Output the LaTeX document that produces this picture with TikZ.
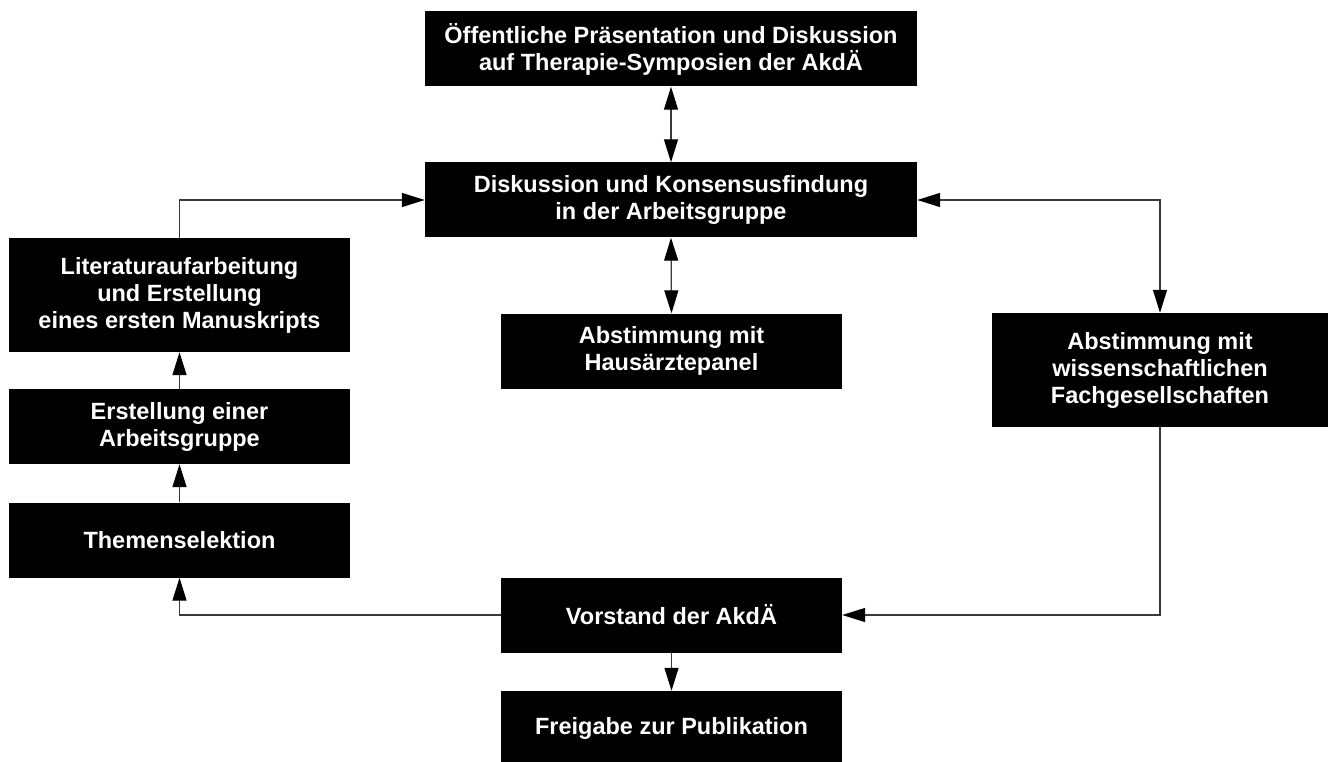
\documentclass[tikz,border=0pt]{standalone}
\usepackage{fontspec}
\setmainfont{Liberation Sans}
\usetikzlibrary{arrows.meta}
\definecolor{linegray}{HTML}{3A3A3A}

\begin{document}
\begin{tikzpicture}[x=1pt, y=-1pt,
  box/.style={fill=black, text=white, align=center, inner sep=0pt,
    font=\fontsize{23.5}{27}\selectfont\bfseries, minimum height=75pt},
  wide/.style={box, minimum width=492pt},
  small/.style={box, minimum width=341pt},
  link/.style={linegray, line width=1.3pt},
  >={Triangle[length=23pt, width=14pt, color=black]}]
  \useasboundingbox (0,0) rectangle (1328,762);

  % middle column
  \node[wide] (praes) at (671,49) {Öffentliche Präsentation und Diskussion\\auf Therapie-Symposien der AkdÄ};
  \node[wide] (disk) at (671,200) {Diskussion und Konsensusfindung\\in der Arbeitsgruppe};
  \node[small] (haus) at (671.5,351) {Abstimmung mit\\Hausärztepanel};
  \node[small] (vorst) at (671.5,615) {Vorstand der AkdÄ};
  \node[small] (frei) at (671.5,728.5) {Freigabe zur Publikation};

  % left column
  \node[small, minimum height=114pt] (lit) at (179.5,295) {Literaturaufarbeitung\\und Erstellung\\eines ersten Manuskripts};
  \node[small] (erst) at (179.5,426.5) {Erstellung einer\\Arbeitsgruppe};
  \node[small] (themen) at (179.5,540) {Themenselektion};

  % right column
  \node[box, minimum width=336pt, minimum height=114pt] (fach) at (1160,370) {Abstimmung mit\\wissenschaftlichen\\Fachgesellschaften};

  % connectors
  \draw[link, <->] (praes.south) -- (disk.north);
  \draw[link, <->] (disk.south) -- (haus.north);
  \draw[link, ->] (lit.north) |- (disk.west);
  \draw[link, <->] (disk.east) -| (fach.north);
  \draw[link, ->] (fach.south) |- (vorst.east);
  \draw[link, ->] (vorst.west) -| (themen.south);
  \draw[link, ->] (themen.north) -- (erst.south);
  \draw[link, ->] (erst.north) -- (lit.south);
  \draw[link, ->] (vorst.south) -- (frei.north);
\end{tikzpicture}
\end{document}
